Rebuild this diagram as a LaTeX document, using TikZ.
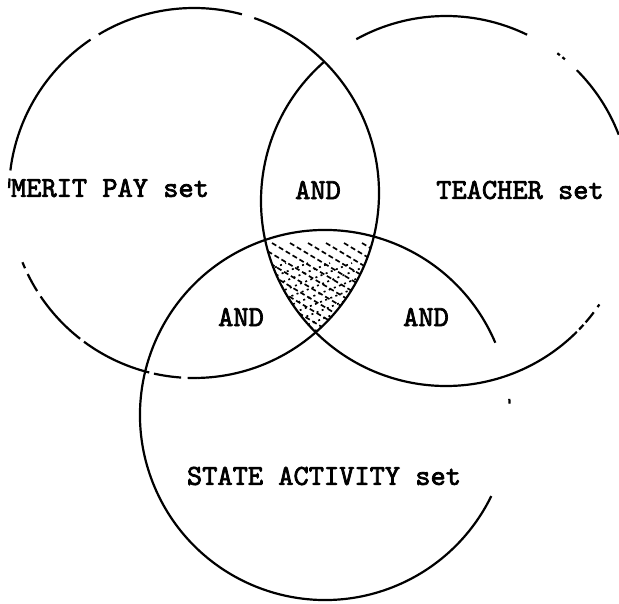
\documentclass[tikz,border=0pt]{standalone}
\usetikzlibrary{calc}
\font\typewfont="[lmmono10-regular.otf]:embolden=2.5" at 29pt

\begin{document}
\begin{tikzpicture}[x=1pt, y=1pt,
        rim/.style={line width=2.2pt},
        hatchline/.style={line width=1.7pt, dash pattern=on 5pt off 3pt},
        hatchdot/.style={line width=1.6pt, dash pattern=on 2pt off 3.5pt},
        settext/.style={font=\typewfont, inner sep=0pt}]
    \useasboundingbox (0, 0) rectangle (619, 603);
    \coordinate (A) at (194, 410);
    \coordinate (B) at (446, 402);
    \coordinate (C) at (325, 188);
    % merit pay circle, broken where the copy is faint
    \foreach \s/\e in {-89/71, 75/121, 124/173, 175.5/178.5, 202/204, 206/212, 214/232, 233.5/256, 257.5/266, 268/271} {
        \draw[rim] (A) ++(\s:185) arc[start angle=\s, end angle=\e, radius=185];
    }
    % teacher circle
    \foreach \s/\e in {131/315, 316/318, 319/323, 325/326, 21/45, 50/51, 52/53, 64/119} {
        \draw[rim] (B) ++(\s:185) arc[start angle=\s, end angle=\e, radius=185];
    }
    % state activity circle
    \foreach \s/\e in {23/334, 3.5/5} {
        \draw[rim] (C) ++(\s:185) arc[start angle=\s, end angle=\e, radius=185];
    }
    % shaded part common to all three sets
    \begin{scope}
        \clip (A) circle[radius=185];
        \clip (B) circle[radius=185];
        \clip (C) circle[radius=185];
        \foreach \k in {-14, ..., 14} {
            \draw[hatchline] (318+\k*18, 300) ++(-100, 60) -- ++(200, -120);
            \draw[hatchdot] (318+\k*22, 300) ++(-100, -40) -- ++(200, 80);
        }
    \end{scope}
    \node[settext] (merit) at (110, 415) {MERIT PAY set};
    \node[settext] (teacher) at (520, 413) {TEACHER set};
    \node[settext] (ab) at (318, 413) {AND};
    \node[settext] (ac) at (241, 286) {AND};
    \node[settext] (bc) at (426, 286) {AND};
    \node[settext] (state) at (324, 127) {STATE ACTIVITY set};
\end{tikzpicture}
\end{document}
